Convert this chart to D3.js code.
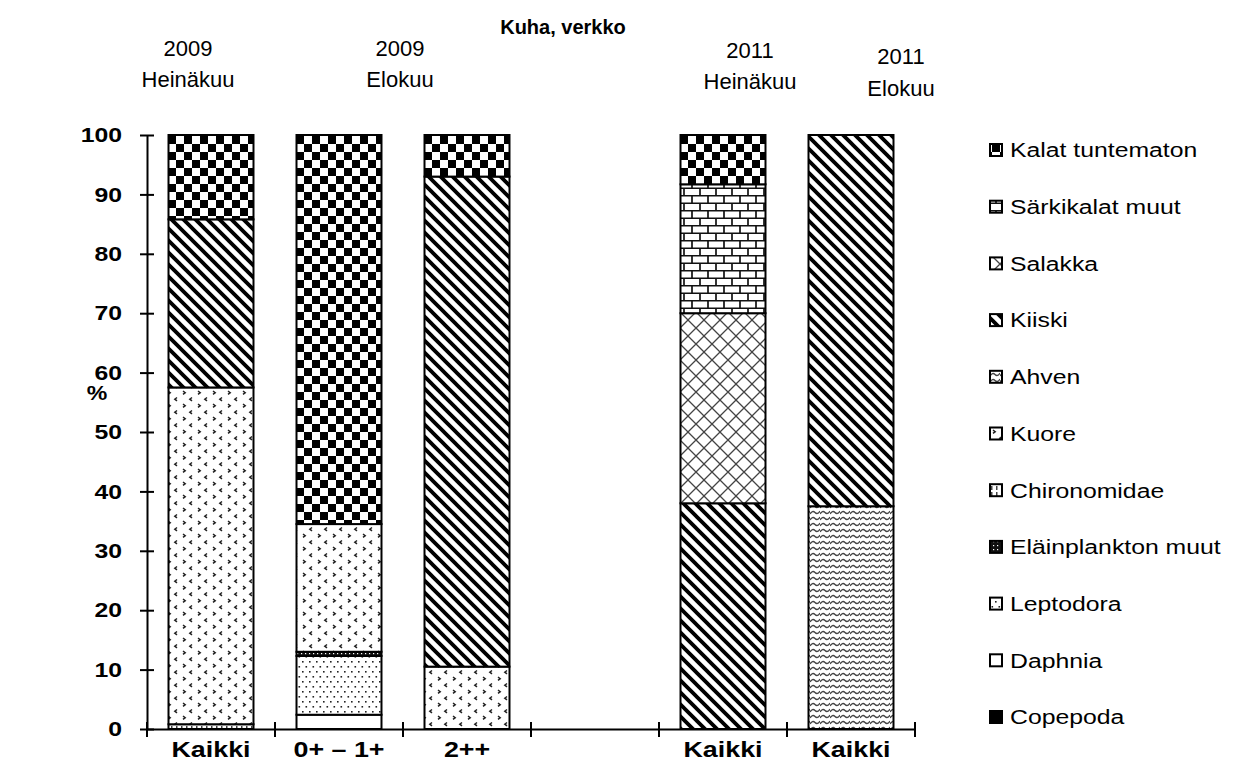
<!DOCTYPE html>
<html><head><meta charset="utf-8">
<script src="https://cdn.jsdelivr.net/npm/d3@7"></script>
<style>
body{margin:0;background:#fff;}
text{font-family:"Liberation Sans",Arial,sans-serif;fill:#000;}
.narrow{font-family:"Liberation Sans Narrow","Arial Narrow","Liberation Sans",Arial,sans-serif;}
</style></head>
<body><svg id="chart" width="1233" height="776"></svg>
<script>
// ---- data ----
const categories = ["Kaikki", "0+ – 1+", "2++", "", "Kaikki", "Kaikki"];
const periods = [["2009","Heinäkuu"],["2009","Elokuu"],["2011","Heinäkuu"],["2011","Elokuu"]];
const seriesNames = ["Copepoda","Daphnia","Leptodora","Eläinplankton muut","Chironomidae","Kuore","Ahven","Kiiski","Salakka","Särkikalat muut","Kalat tuntematon"];
const copepoda        = [0, 0,    0,    0, 0,    0];
const daphnia         = [0, 2.4,  0,    0, 0,    0];
const leptodora       = [0, 9.9,  0,    0, 0,    0];
const elainplankton   = [0, 0.7,  0,    0, 0,    0];
const chironomidae    = [0.8, 0,  0,    0, 0,    0];
const kuore           = [56.7, 21.5, 10.5, 0, 0, 0];
const ahven           = [0, 0,    0,    0, 0,    37.5];
const kiiski          = [28.3, 0, 82.5, 0, 38,   62.5];
const salakka         = [0, 0,    0,    0, 32,   0];
const sarkikalat      = [0, 0,    0,    0, 21.7, 0];
const kalatTuntematon = [14.2, 65.5, 7, 0, 8.3,  0];
const yTicks = [0,10,20,30,40,50,60,70,80,90,100];
const title = "Kuha, verkko";
const yLabel = "%";

const seriesValues = [copepoda,daphnia,leptodora,elainplankton,chironomidae,kuore,ahven,kiiski,salakka,sarkikalat,kalatTuntematon];
const rows = categories.map((c,i)=>{const r={idx:i};seriesNames.forEach((s,j)=>r[s]=seriesValues[j][i]);return r;});

const svg = d3.select("#chart");
const defs = svg.append("defs");
const SX = 1.18; // horizontal stretch of text as in the reference

// ---- patterns ----
function pat(id,w,h){const p=defs.append("pattern").attr("id",id).attr("patternUnits","userSpaceOnUse").attr("width",w).attr("height",h);
  p.append("rect").attr("width",w).attr("height",h).attr("fill","#fff");return p;}
// Leptodora fine dots
{const p=pat("p2",7,10);
 p.append("rect").attr("x",1).attr("y",1).attr("width",1.6).attr("height",1.6).attr("fill","#222");
 p.append("rect").attr("x",4.5).attr("y",6).attr("width",1.6).attr("height",1.6).attr("fill","#222");}
// Eläinplankton muut dense dark
{const p=pat("p3",4,4);p.select("rect").attr("fill","#111");
 p.append("rect").attr("x",1).attr("y",1).attr("width",1.2).attr("height",1.2).attr("fill","#fff");}
// Chironomidae vertical stripes
{const p=pat("p4",5,6);
 p.append("rect").attr("x",1).attr("y",0).attr("width",1.5).attr("height",4).attr("fill","#444");}
// Kuore chevrons
{const p=pat("p5",15,13);
 p.append("path").attr("d","M3,1 L5.2,2.7 L3,4.4").attr("fill","none").attr("stroke","#222").attr("stroke-width",1.5);
 p.append("path").attr("d","M12,7.5 L9.8,9.2 L12,10.9").attr("fill","none").attr("stroke","#222").attr("stroke-width",1.5);}
// Ahven wave
{const p=pat("p6",10,6);
 p.append("path").attr("d","M0,4 Q2.5,0 5,2.5 T10,1").attr("fill","none").attr("stroke","#444").attr("stroke-width",1.4);}
// Kiiski diagonal
{const p=pat("p7",12,12);
 p.append("path").attr("d","M-3,-3 L15,15 M-3,9 L3,15 M9,-3 L15,3").attr("stroke","#000").attr("stroke-width",3.8);}
// Salakka diamond crosshatch
{const p=pat("p8",16,16);
 p.append("path").attr("d","M0,0 L16,16 M16,0 L0,16").attr("stroke","#444").attr("stroke-width",1.3);}
// Särkikalat muut brick
{const p=pat("p9",16,15);
 p.append("path").attr("d","M0,0.75 H16 M0,8.25 H16 M4,0 V7.5 M12,7.5 V15").attr("stroke","#111").attr("stroke-width",1.7);}
// Kalat tuntematon checker
{const p=pat("p10",16,16);
 p.append("rect").attr("x",0).attr("y",0).attr("width",8).attr("height",8).attr("fill","#000");
 p.append("rect").attr("x",8).attr("y",8).attr("width",8).attr("height",8).attr("fill","#000");}
const fills = ["#000","#fff","url(#p2)","url(#p3)","url(#p4)","url(#p5)","url(#p6)","url(#p7)","url(#p8)","url(#p9)","url(#p10)"];

// ---- scales ----
const x = d3.scaleBand().domain(categories.map((c,i)=>i)).range([147,915]).padding(0);
const y = d3.scaleLinear().domain([0,100]).range([729,135]);
const barW = x.bandwidth()*0.664;

// ---- bars ----
const stack = d3.stack().keys(seriesNames)(rows);
const g = svg.append("g");
stack.forEach((layer,si)=>{
  g.selectAll(null).data(layer.filter(d=>d[1]-d[0]>0)).enter().append("rect")
   .attr("x",d=>x(d.data.idx)+(x.bandwidth()-barW)/2)
   .attr("y",d=>y(d[1]))
   .attr("width",barW)
   .attr("height",d=>y(d[0])-y(d[1]))
   .attr("fill",fills[si])
   .attr("stroke","#000").attr("stroke-width",2);
});

// ---- axes ----
const ya = svg.append("g").attr("transform","translate(147,0)")
  .call(d3.axisLeft(y).tickValues(yTicks).tickSize(0).tickPadding(25));
ya.select(".domain").attr("stroke","#000").attr("stroke-width",2);
ya.selectAll(".tick text").attr("font-size",21).attr("font-weight","bold")
  .attr("x",-25/SX).attr("transform",`scale(${SX},1)`);
ya.selectAll(".tick").append("line").attr("x1",-7).attr("x2",7).attr("stroke","#000").attr("stroke-width",2);

const xa = svg.append("g").attr("transform","translate(0,729)")
  .call(d3.axisBottom(x).tickSize(0).tickFormat(i=>categories[i]));
xa.select(".domain").attr("stroke","#000").attr("stroke-width",2);
xa.selectAll(".tick text").attr("font-size",22).attr("font-weight","bold")
  .attr("y",28).attr("dy",0).attr("transform",`scale(1.22,1)`);
const bounds = categories.map((c,i)=>x(i)).concat([x(categories.length-1)+x.bandwidth()]);
xa.selectAll(".bound").data(bounds).enter().append("line")
  .attr("x1",d=>d).attr("x2",d=>d).attr("y1",-7).attr("y2",8).attr("stroke","#000").attr("stroke-width",2);

// ---- titles ----
function stext(px,py,size,str,opts={}){
  const t=svg.append("text").attr("transform",`translate(${px},${py}) scale(${opts.sx||SX},1)`)
    .attr("text-anchor","middle").attr("dy","0.35em").attr("font-size",size).text(str);
  if(opts.bold) t.attr("font-weight","bold");
  if(opts.cls) t.attr("class",opts.cls);
  return t;
}
stext(563,27,20,title,{bold:true,sx:1,cls:"narrow"});
stext(97,393,21,yLabel,{bold:true,sx:1.1});
const headPos = [[188,48,79],[400,48,79],[750,50,81],[901,56,88]];
periods.forEach((p,i)=>{
  const [hx,y1,y2]=headPos[i];
  stext(hx,y1,22,p[0],{sx:1,cls:"narrow"});
  stext(hx,y2,22,p[1],{sx:1,cls:"narrow"});
});

// ---- legend ----
const leg = svg.append("g");
const legOrder = seriesNames.slice().reverse();
legOrder.forEach((s,i)=>{
  const si = seriesNames.indexOf(s);
  const cy = 150 + i*56.7;
  leg.append("rect").attr("x",990).attr("y",cy-6).attr("width",12).attr("height",12)
    .attr("fill",fills[si]).attr("stroke","#000").attr("stroke-width",2);
  leg.append("text").attr("transform",`translate(1010,${cy}) scale(${SX},1)`).attr("dy","0.35em").attr("font-size",21).text(s);
});
</script></body></html>
